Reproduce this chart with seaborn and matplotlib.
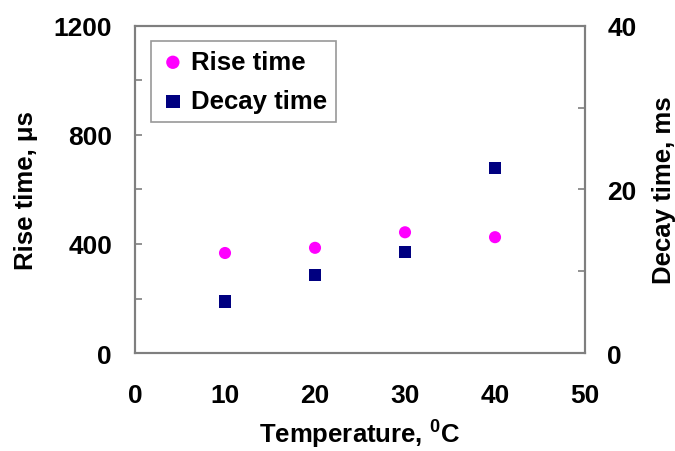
import matplotlib.pyplot as plt
import matplotlib.ticker as mtick
import pandas as pd
import seaborn as sns

sns.set_style("white")
plt.rcParams["font.family"] = ["Liberation Sans", "DejaVu Sans"]
plt.rcParams["font.weight"] = "bold"
plt.rcParams["text.color"] = "black"
plt.rcParams["axes.labelcolor"] = "black"
plt.rcParams["mathtext.fontset"] = "custom"
plt.rcParams["mathtext.rm"] = "Liberation Sans:bold"
plt.rcParams["mathtext.it"] = "Liberation Sans:bold"
plt.rcParams["mathtext.bf"] = "Liberation Sans:bold"

temperature = [10, 20, 30, 40]
rise_time_us = [367, 386, 443, 425]
decay_time_ms = [6.3, 9.5, 12.4, 22.6]

data = pd.DataFrame({
    "temperature": temperature,
    "rise": rise_time_us,
    "decay": decay_time_ms,
})

SPINE = "#7f7f7f"
TICK_FS = 19
LABEL_FS = 18.5

fig = plt.figure(figsize=(6.75, 4.52), dpi=100)
ax = fig.add_axes([0.2, 0.2168, 0.6667, 0.7235])
ax2 = ax.twinx()

sns.scatterplot(data=data, x="temperature", y="rise", ax=ax, marker="o", s=76,
                color="#ff00ff", edgecolor="none", label="Rise time", legend=False)
sns.scatterplot(data=data, x="temperature", y="decay", ax=ax2, marker="s", s=76,
                color="#000080", edgecolor="none", label="Decay time", legend=False)

ax.set_xlim(0, 50)
ax.set_ylim(0, 1200)
ax2.set_ylim(0, 40)

ax.xaxis.set_major_locator(mtick.MultipleLocator(10))
ax.xaxis.set_minor_locator(mtick.MultipleLocator(5))
ax.yaxis.set_major_locator(mtick.MultipleLocator(400))
ax.yaxis.set_minor_locator(mtick.MultipleLocator(200))
ax2.yaxis.set_major_locator(mtick.MultipleLocator(20))
ax2.yaxis.set_minor_locator(mtick.MultipleLocator(10))

for a in (ax, ax2):
    for s in a.spines.values():
        s.set_color(SPINE)
        s.set_linewidth(1.5)
    a.tick_params(which="both", direction="in", color=SPINE, width=1.2, length=5,
                  labelsize=TICK_FS, labelcolor="black")

ax.tick_params(axis="x", which="major", pad=21.5)
ax.tick_params(axis="y", which="major", pad=16.5)
ax2.tick_params(axis="y", which="major", pad=16)

ax.set_xlabel("Temperature, $^{0}$C", fontsize=LABEL_FS, fontweight="bold", labelpad=8)
ax.set_ylabel("Rise time, μs", fontsize=LABEL_FS, fontweight="bold", labelpad=11)
ax2.set_ylabel("Decay time, ms", fontsize=LABEL_FS, fontweight="bold", labelpad=11)

h1, l1 = ax.get_legend_handles_labels()
h2, l2 = ax2.get_legend_handles_labels()
leg = ax2.legend(h1 + h2, ["Rise time", "Decay time"], loc="upper left",
                 bbox_to_anchor=(0.0356, 0.954), borderaxespad=0, frameon=True,
                 fancybox=False, handletextpad=0.2, borderpad=0.35, labelspacing=0.6,
                 handlelength=1.0, markerscale=1.1,
                 prop={"weight": "bold", "size": LABEL_FS})
leg.get_frame().set_edgecolor(SPINE)
leg.get_frame().set_linewidth(1.2)

fig.savefig("out.png", dpi=100)
